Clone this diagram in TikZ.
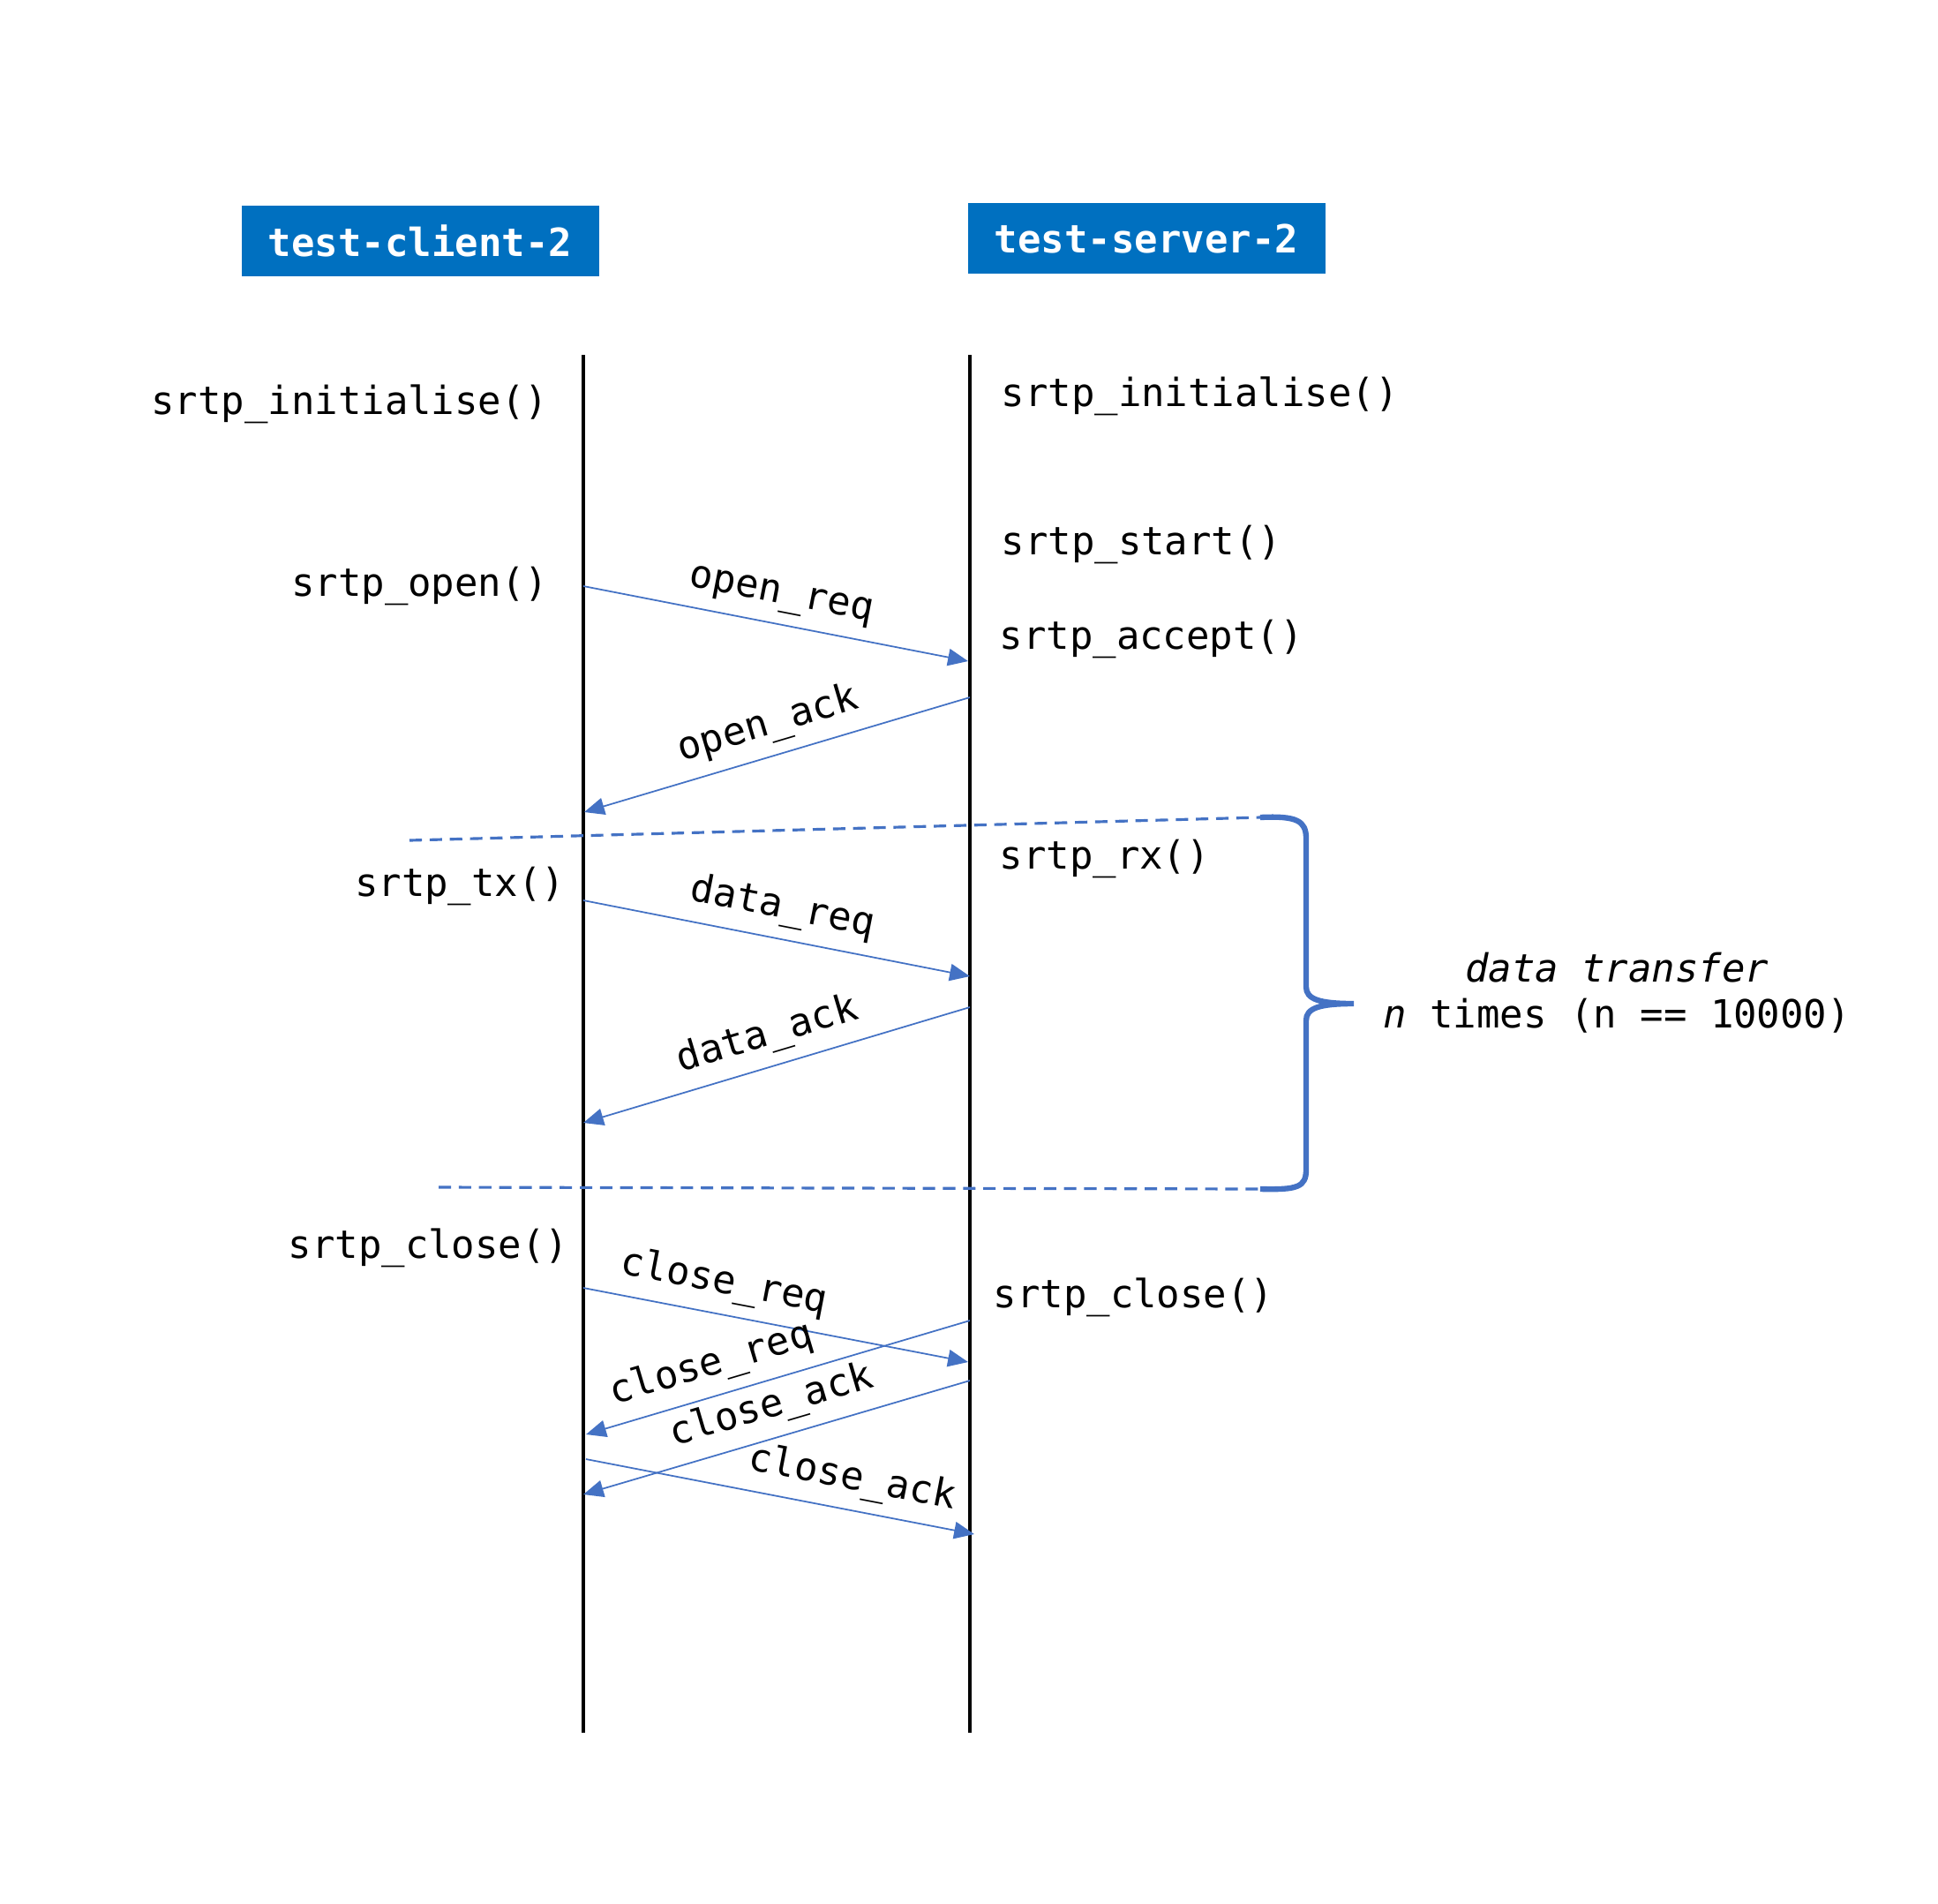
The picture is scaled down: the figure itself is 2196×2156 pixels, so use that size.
\documentclass[tikz,border=0pt]{standalone}
\usepackage{fontspec}
\setmainfont{DejaVu Sans Mono}
\usepackage{tikz}
\usetikzlibrary{
    positioning,
    arrows.meta,
    calc
}
\definecolor{boxBlue}{RGB}{0, 112, 192}
\definecolor{msgBlue}{RGB}{68, 114, 196}

\begin{document}
\begin{tikzpicture}[x=0.01cm, y=-0.01cm,
        every node/.style={font=\fontsize{12.5}{15}\selectfont},
        actor/.style={fill=boxBlue, text=white, font=\fontsize{12.5}{15}\selectfont\bfseries,
            minimum width=405*0.01cm, minimum height=80*0.01cm, inner sep=0pt},
        call/.style={inner sep=0pt, yshift=-1.2pt},
        life/.style={line width=0.9pt, black},
        msg/.style={msgBlue, line width=0.5pt, -{Triangle[length=6.5pt, width=5.5pt]}},
        lbl/.style={sloped, above, text=black, inner sep=3.5pt},
        loopline/.style={msgBlue, line width=0.9pt, dash pattern=on 4pt off 2.5pt},
        brace/.style={msgBlue, line width=1.8pt}
    ]
            \useasboundingbox (0,0) rectangle (2196,2156);

            % actors
            \node[actor] (client) at (476,273) {test-client-2};
            \node[actor] (server) at (1299,270) {test-server-2};

            % lifelines
            \coordinate (cT) at (661,402); \coordinate (cB) at (661,1963);
            \coordinate (sT) at (1099,402); \coordinate (sB) at (1099,1963);
            \draw[life] (cT) -- (cB);
            \draw[life] (sT) -- (sB);

            % calls on the client side
            \node[call, anchor=east] (cInit) at (622,454) {srtp\_initialise()};
            \node[call, anchor=east] (cOpen) at (622,660) {srtp\_open()};
            \node[call, anchor=east] (cTx) at (641,1000) {srtp\_tx()};
            \node[call, anchor=east] (cClose) at (645,1410) {srtp\_close()};

            % calls on the server side
            \node[call, anchor=west] (sInit) at (1134,445) {srtp\_initialise()};
            \node[call, anchor=west] (sStart) at (1134,613) {srtp\_start()};
            \node[call, anchor=west] (sAccept) at (1132,720) {srtp\_accept()};
            \node[call, anchor=west] (sRx) at (1132,969) {srtp\_rx()};
            \node[call, anchor=west] (sClose) at (1125,1466) {srtp\_close()};

            % message end points
            \coordinate (m1a) at (661,664);  \coordinate (m1b) at (1097,749);
            \coordinate (m2a) at (1099,790); \coordinate (m2b) at (662,920);
            \coordinate (m3a) at (661,1020); \coordinate (m3b) at (1099,1106);
            \coordinate (m4a) at (1099,1141); \coordinate (m4b) at (661,1272);
            \coordinate (m5a) at (661,1459); \coordinate (m5b) at (1097,1543);
            \coordinate (m6a) at (1099,1496); \coordinate (m6b) at (664,1625);
            \coordinate (m7a) at (1099,1564); \coordinate (m7b) at (661,1693);
            \coordinate (m8a) at (664,1653); \coordinate (m8b) at (1104,1738);

            \draw[msg] (m1a) -- node[lbl, pos=0.5] (openReq) {open\_req} (m1b);
            \draw[msg] (m2a) -- node[lbl, pos=0.5] (openAck) {open\_ack} (m2b);
            \draw[msg] (m3a) -- node[lbl, pos=0.5] (dataReq) {data\_req} (m3b);
            \draw[msg] (m4a) -- node[lbl, pos=0.5] (dataAck) {data\_ack} (m4b);
            \draw[msg] (m5a) -- node[lbl, pos=0.35] (closeReqC) {close\_req} (m5b);
            \draw[msg] (m6a) -- node[lbl, pos=0.65] (closeReqS) {close\_req} (m6b);
            \draw[msg] (m7a) -- node[lbl, pos=0.49] (closeAckS) {close\_ack} (m7b);
            \draw[msg] (m8a) -- node[lbl, pos=0.67] (closeAckC) {close\_ack} (m8b);

            % loop region
            \coordinate (loopTL) at (464,952); \coordinate (loopTR) at (1428,926);
            \coordinate (loopBL) at (497,1345); \coordinate (loopBR) at (1428,1347);
            \coordinate (tip) at (1534,1137);
            \draw[loopline] (loopTL) -- (loopTR);
            \draw[loopline] (loopBL) -- (loopBR);
            \draw[brace] (loopTR) .. controls (1470,924) and (1480,930) .. (1480,950)
                -- (1480,1118) .. controls (1480,1132) and (1495,1137) .. (tip)
                .. controls (1495,1137) and (1480,1142) .. (1480,1156)
                -- (1480,1325) .. controls (1480,1345) and (1470,1348) .. (loopBR);
            \node[align=center, right=6pt of tip, yshift=3.5pt] (loopText)
                {{\itshape data transfer}\\{\itshape n} times (n == 10000)};
        \end{tikzpicture}
\end{document}
